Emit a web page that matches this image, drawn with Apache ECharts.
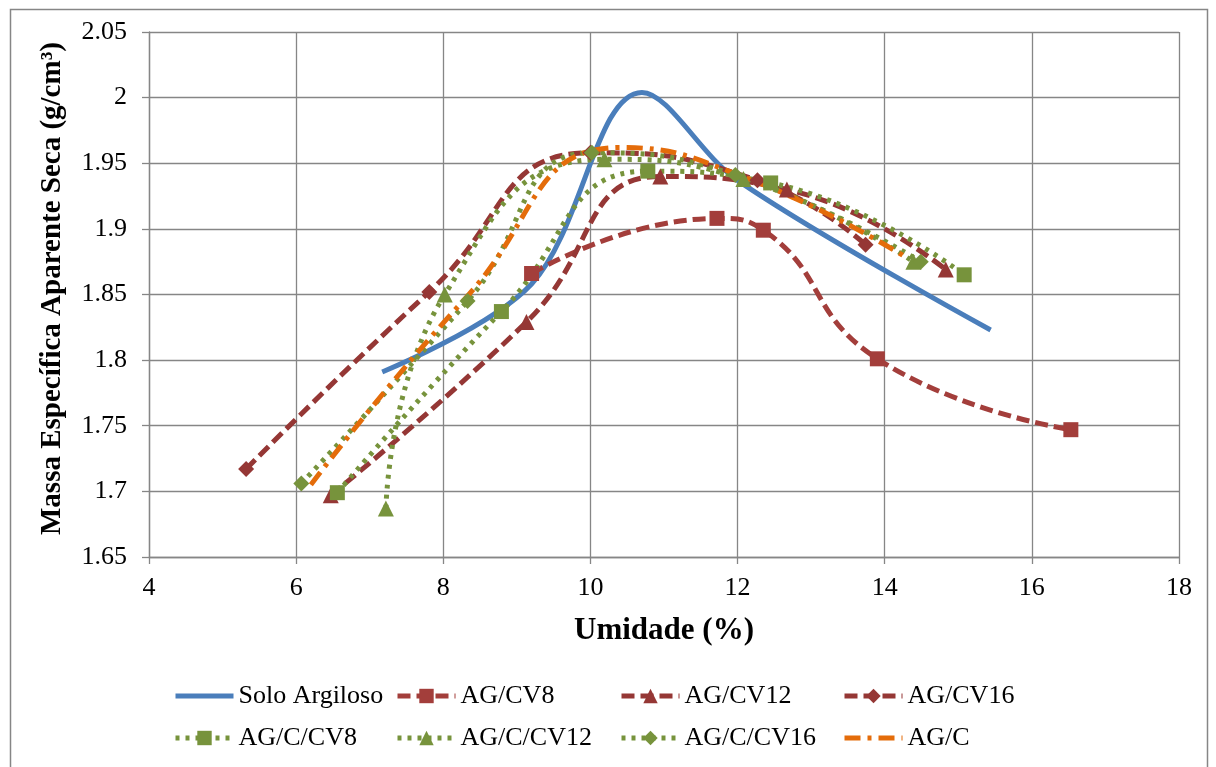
<!doctype html>
<html lang="pt">
<head>
<meta charset="utf-8">
<title>Umidade x Massa Específica</title>
<script src="https://cdn.jsdelivr.net/npm/echarts@6/dist/echarts.min.js"></script>
<style>
  html, body { margin: 0; padding: 0; background: #fff; }
  #chart { width: 1216px; height: 767px; }
</style>
</head>
<body>
<div id="chart"></div>
<script>
// umidade (%) / massa especifica (g/cm3)
let soloX = [7.17, 9.2, 10.7, 12.0, 15.44];
let soloY = [1.791, 1.858, 2.004, 1.937, 1.823];

let cv8X = [9.2, 11.72, 12.35, 13.9, 16.53];
let cv8Y = [1.866, 1.908, 1.899, 1.801, 1.747];

let cv12X = [6.47, 9.13, 10.95, 12.67, 14.83];
let cv12Y = [1.697, 1.829, 1.940, 1.930, 1.869];

let cv16X = [5.32, 7.81, 10.0, 12.27, 13.74];
let cv16Y = [1.717, 1.852, 1.958, 1.937, 1.888];

let ccv8X = [6.56, 8.79, 10.78, 12.45, 15.08];
let ccv8Y = [1.699, 1.837, 1.944, 1.935, 1.865];

let ccv12X = [7.22, 8.02, 10.19, 12.08, 14.39];
let ccv12Y = [1.687, 1.850, 1.953, 1.938, 1.875];

let ccv16X = [6.07, 8.33, 10.02, 11.97, 14.49];
let ccv16Y = [1.706, 1.845, 1.958, 1.941, 1.875];

let agcX = [6.2, 8.3, 10.4, 12.2, 14.3];
let agcY = [1.705, 1.847, 1.962, 1.937, 1.878];

let names = ['Solo Argiloso', 'AG/CV8', 'AG/CV12', 'AG/CV16',
             'AG/C/CV8', 'AG/C/CV12', 'AG/C/CV16', 'AG/C'];

function pts(xs, ys) {
  let out = [];
  for (let i = 0; i < xs.length; i++) out.push([xs[i], ys[i]]);
  return out;
}

let blue = '#4A7EBB', brown = '#A33E3B', brown2 = '#953735',
    green = '#77933C', orange = '#E46C0A';
let dash = [13, 6], dot = [4, 6], dashDot = [16, 7, 4, 7];
let lw = 5;

function serie(name, data, color, type, symbol, size, smooth) {
  let s = {
    name: name, type: 'line', data: data, smooth: smooth || 0.5,
    symbol: symbol || 'circle', symbolSize: size || 6, showSymbol: !!symbol,
    lineStyle: { color: color, width: lw, type: type, cap: 'butt' },
    itemStyle: { color: color, borderWidth: 0 },
    emphasis: { disabled: true }, z: 2
  };
  // no markers: keep the legend icon a plain line
  if (!symbol) s.itemStyle.opacity = 0;
  return s;
}

let series = [
  serie(names[0], pts(soloX, soloY), blue, 'solid', null, null, 0.35),
  serie(names[1], pts(cv8X, cv8Y), brown, dash, 'rect', 15),
  serie(names[2], pts(cv12X, cv12Y), brown2, dash, 'triangle', 16),
  serie(names[3], pts(cv16X, cv16Y), brown2, dash, 'diamond', 16),
  serie(names[4], pts(ccv8X, ccv8Y), green, dot, 'rect', 15),
  serie(names[5], pts(ccv12X, ccv12Y), green, dot, 'triangle', 16),
  serie(names[6], pts(ccv16X, ccv16Y), green, dot, 'diamond', 16),
  serie(names[7], pts(agcX, agcY), orange, dashDot)
];

// one legend per item so each sits in its column
let colLeft = [168, 390, 614, 837];
let rowTop = [678, 720];
let legends = names.map(function (n, i) {
  return {
    data: [n], left: colLeft[i % 4], top: rowTop[Math.floor(i / 4)],
    itemWidth: 58, itemHeight: 18, selectedMode: false,
    lineStyle: { width: lw },
    textStyle: { fontFamily: 'Liberation Serif', fontSize: 26, color: '#000' }
  };
});

let gray = '#868686';
let chart = echarts.init(document.getElementById('chart'));
chart.setOption({
  animation: false,
  backgroundColor: '#fff',
  grid: { left: 149, right: 37, top: 32, bottom: 210 },
  legend: legends,
  xAxis: {
    type: 'value', min: 4, max: 18, interval: 2,
    name: 'Umidade (%)', nameLocation: 'middle', nameGap: 58,
    nameTextStyle: { fontFamily: 'Liberation Serif', fontWeight: 'bold', fontSize: 31, color: '#000' },
    axisLine: { show: true, lineStyle: { color: gray, width: 1.3 } },
    axisTick: { show: true, length: 7, lineStyle: { color: gray, width: 1.3 } },
    axisLabel: { margin: 18, fontFamily: 'Liberation Serif', fontSize: 26, color: '#000' },
    splitLine: { show: true, lineStyle: { color: gray, width: 1.3 } }
  },
  yAxis: {
    type: 'value', min: 1.65, max: 2.05, interval: 0.05,
    name: 'Massa Específica Aparente Seca (g/cm³)', nameLocation: 'middle', nameGap: 82,
    nameTextStyle: {
      fontFamily: 'Liberation Serif', fontWeight: 'bold', fontSize: 29, color: '#000',
      padding: [0, 0, 0, 12]
    },
    axisLine: { show: true, lineStyle: { color: gray, width: 1.3 } },
    axisTick: { show: true, length: 7, lineStyle: { color: gray, width: 1.3 } },
    axisLabel: {
      margin: 22, fontFamily: 'Liberation Serif', fontSize: 26, color: '#000',
      formatter: function (v) { return String(+v.toFixed(2)); }
    },
    splitLine: { show: true, lineStyle: { color: gray, width: 1.3 } }
  },
  graphic: [{
    type: 'rect', left: 8, top: 7, z: -1, silent: true,
    shape: { width: 1197, height: 800 },
    style: { fill: 'none', stroke: gray, lineWidth: 1.5 }
  }],
  series: series
});
</script>
</body>
</html>
